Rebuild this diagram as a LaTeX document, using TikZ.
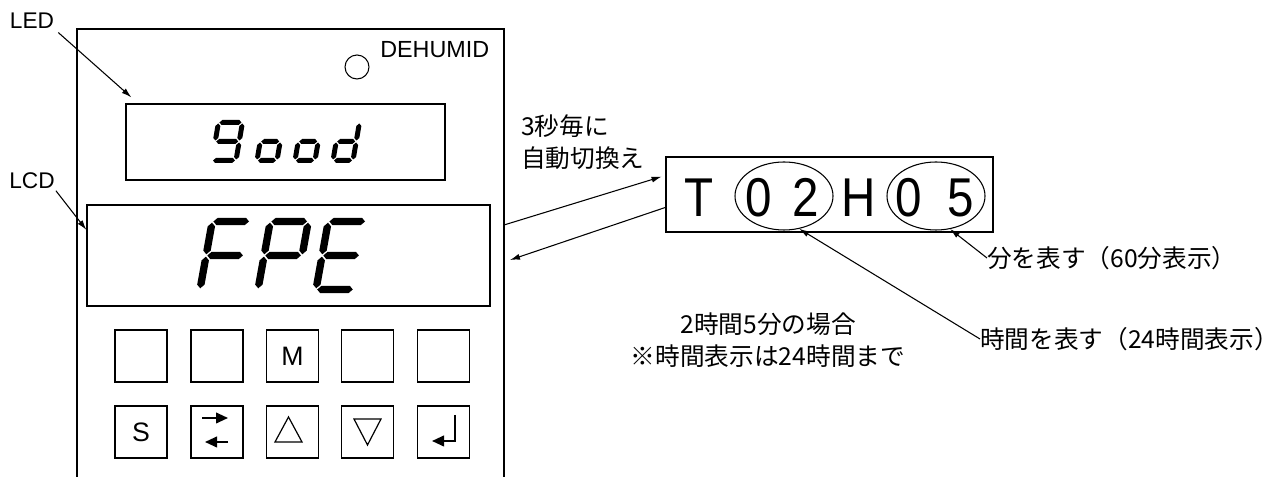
\documentclass[tikz,border=0pt]{standalone}
\usepackage{fontspec}
\setmainfont{Liberation Sans}
\newfontfamily\jpfont{Noto Sans CJK JP}
\newfontfamily\dispfont{Liberation Sans}[FakeStretch=0.87]
\usetikzlibrary{arrows.meta,positioning,shapes.geometric,calc}

% seven-segment geometry (px): width, half height, half thickness, gap, slant
\def\sgw{36}\def\sgh{34}\def\sgt{3.5}\def\sgg{1.2}\def\sgs{0.18}
\newcommand{\hseg}[1]{\fill (\sgg,#1) -- (\sgg+\sgt,#1+\sgt) -- (\sgw-\sgg-\sgt,#1+\sgt)
  -- (\sgw-\sgg,#1) -- (\sgw-\sgg-\sgt,#1-\sgt) -- (\sgg+\sgt,#1-\sgt) -- cycle;}
\newcommand{\vseg}[2]{\fill (#1,#2+\sgg) -- (#1+\sgt,#2+\sgg+\sgt) -- (#1+\sgt,#2+\sgh-\sgg-\sgt)
  -- (#1,#2+\sgh-\sgg) -- (#1-\sgt,#2+\sgh-\sgg-\sgt) -- (#1-\sgt,#2+\sgg+\sgt) -- cycle;}
\tikzset{
  sg a/.pic={\hseg{2*\sgh}},
  sg g/.pic={\hseg{\sgh}},
  sg d/.pic={\hseg{0}},
  sg b/.pic={\vseg{\sgw}{\sgh}},
  sg c/.pic={\vseg{\sgw}{0}},
  sg e/.pic={\vseg{0}{0}},
  sg f/.pic={\vseg{0}{\sgh}}}
\newcommand{\segdigit}[2]{\begin{scope}[shift={#1},xslant=\sgs]
  \foreach \s in {#2}{\pic[transform shape] at (0,0) {sg \s};}\end{scope}}

\begin{document}
\begin{tikzpicture}[x=0.75pt,y=0.75pt,
    every node/.style={inner sep=0pt},
    key/.style={draw,line width=0.9pt,minimum size=39pt,font=\fontsize{20}{22}\selectfont},
    pointer/.style={-{Latex[length=7.5pt,width=4.5pt]},line width=0.8pt},
    glyph/.style={-{Triangle[length=9pt,width=8pt]},line width=1.4pt},
    jp/.style={font={\jpfont\fontsize{18.5}{24}\selectfont}}]
  \useasboundingbox (0,0) rectangle (1286,477);
  % panel outline, open at the bottom
  \draw[line width=1pt] (77,0) -- (77,448) -- (504,448) -- (504,0);
  \coordinate (pr) at (504,252);
  \node[circle,draw,line width=0.8pt,minimum size=18pt] (lamp) at (357,410) {};
  \node[anchor=west,font=\fontsize{17.5}{20}\selectfont] (dehum) at (380,427) {DEHUMID};
  % displays
  \node[draw,line width=0.9pt,minimum width=239.25pt,minimum height=57pt] (ledbox) at (285.5,335) {};
  \node[draw,line width=0.9pt,minimum width=302.25pt,minimum height=75.75pt] (lcdbox) at (288.5,221.5) {};
  \node[font=\fontsize{17}{20}\selectfont] (led) at (32,456.5) {LED};
  \node[font=\fontsize{17}{20}\selectfont] (lcd) at (32,296.5) {LCD};
  \draw[pointer] ([shift={(4,-4)}]led.south east) -- ([shift={(6,6)}]ledbox.north west);
  \draw[pointer] ([shift={(1,-2)}]lcd.south east) -- ($(lcdbox.north west)!0.25!(lcdbox.south west)$);
  % LED readout
  \def\sgh{19}\def\sgt{2.5}\def\sgg{1}\def\sgs{0.17}
  \def\sgw{24}\segdigit{(212,316.5)}{a,b,c,d,f,g}
  \def\sgw{20}\segdigit{(257,316.5)}{c,d,e,g}
  \segdigit{(295,316.5)}{c,d,e,g}
  \segdigit{(333,316.5)}{b,c,d,e,g}
  % LCD readout
  \def\sgw{38}\def\sgh{34}\def\sgt{3.7}\def\sgg{1.2}\def\sgs{0.18}
  \segdigit{(200,187.5)}{a,e,f,g}
  \segdigit{(258,187.5)}{a,b,e,f,g}
  \segdigit{(316,187.5)}{a,d,e,f,g}
  % keys
  \foreach \i/\x/\t in {1/141/,2/217/,3/292.5/M,4/367.5/,5/443.5/}
    \node[key] (ka\i) at (\x,121) {\t};
  \foreach \i/\x/\t in {1/141/S,2/217/,3/292.5/,4/367.5/,5/443.5/}
    \node[key] (kb\i) at (\x,45) {\t};
  \draw[glyph] ([shift={(-15,14)}]kb2.center) -- ++(26,0);
  \draw[glyph] ([shift={(11,-10)}]kb2.center) -- ++(-23,0);
  \draw[line width=0.9pt] ([shift={(-4,15)}]kb3.center) -- ++(-13.5,-25) -- ++(27,0) -- cycle;
  \draw[line width=0.9pt] ([shift={(0,-13)}]kb4.center) -- ++(-13.5,26) -- ++(27,0) -- cycle;
  \draw[glyph] ([shift={(11.5,17)}]kb5.center) -- ++(0,-26) -- ++(-23,0);
  % time readout
  \node[draw,line width=0.9pt,minimum width=245.25pt,minimum height=56.25pt] (tbox) at (829.5,282.5) {};
  \foreach \ch/\x [count=\n] in {T/699,0/759,2/806,H/859,0/909,5/961}
    \node[font=\dispfont\fontsize{41}{44}\selectfont] (ch\n) at (\x,279.5) {\ch};
  \node[ellipse,draw,line width=0.8pt,minimum width=73.5pt,minimum height=51pt] (hrs) at (784,281) {};
  \node[ellipse,draw,line width=0.8pt,minimum width=73.5pt,minimum height=51pt] (mins) at (936,281) {};
  \coordinate (back) at (510,217);
  \draw[pointer,shorten >=3pt] (pr) -- ($(tbox.north west)!0.25!(tbox.south west)$);
  \draw[pointer] ($(tbox.north west)!0.67!(tbox.south west)$) -- (back);
  \node[jp,anchor=west,align=left] (swtxt) at (521,335) {3秒毎に\\自動切換え};
  \node[jp,align=center] (note) at (768,137) {2時間5分の場合\\※時間表示は24時間まで};
  \node[jp,anchor=west] (hlab) at (980,138) {時間を表す（24時間表示）};
  \node[jp,anchor=west] (mlab) at (987,219) {分を表す（60分表示）};
  \draw[pointer] (hlab.west) -- (hrs.-65);
  \draw[pointer] (mlab.west) -- (mins.-67);
\end{tikzpicture}
\end{document}
